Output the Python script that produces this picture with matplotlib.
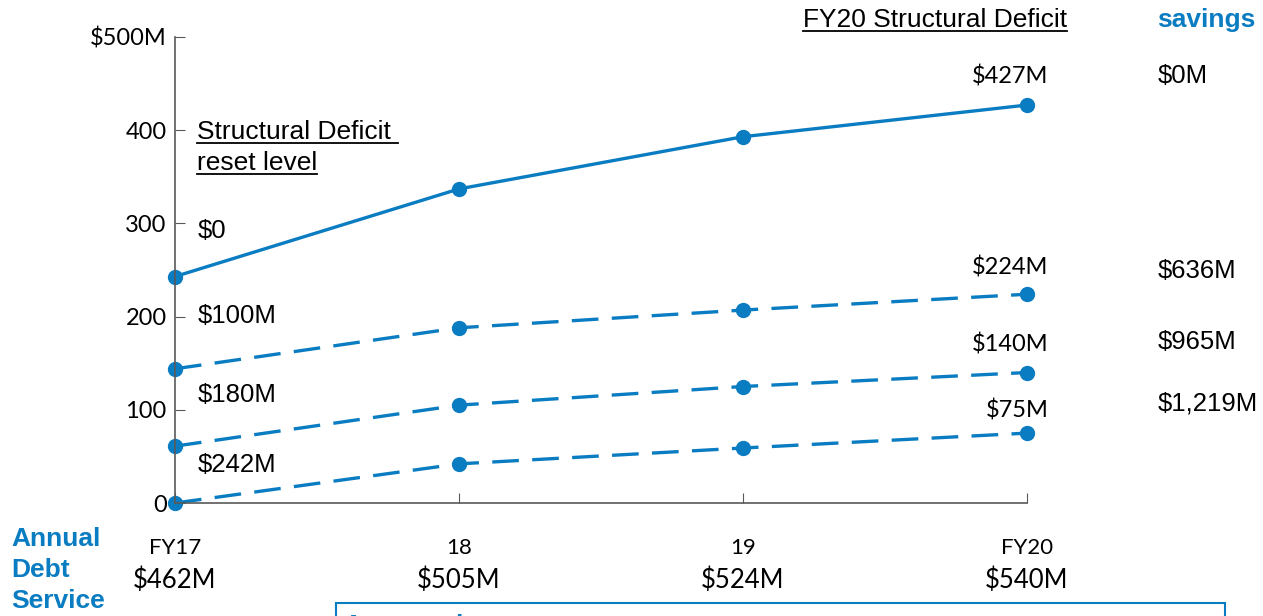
import matplotlib
matplotlib.use("Agg")
import matplotlib.pyplot as plt
from matplotlib.lines import Line2D
from matplotlib.patches import Rectangle

# datos
anios = ["FY17", "18", "19", "FY20"]
servicio_deuda = ["$462M", "$505M", "$524M", "$540M"]
deficit_base = [243, 337, 393, 427]
deficit_100 = [144, 188, 207, 224]
deficit_180 = [61, 105, 125, 140]
deficit_242 = [0, 42, 59, 75]
niveles_reset = ["$0", "$100M", "$180M", "$242M"]
etiquetas_fy20 = ["$427M", "$224M", "$140M", "$75M"]
ahorros = ["$0M", "$636M", "$965M", "$1,219M"]
yticks = [0, 100, 200, 300, 400, 500]
ytick_labels = ["0", "100", "200", "300", "400", "$500M"]

AZUL = "#0a7cc1"
GRIS = "#595959"
ARIAL = "Liberation Sans"
CALIBRI = "Lato"

W, H = 1263, 616
fig = plt.figure(figsize=(W / 100, H / 100), dpi=100)

def px(x, y):
    return x / W, 1 - y / H

ax = fig.add_axes([175 / W, (H - 503) / H, (1027 - 175) / W, (503 - 37) / H])
ax.set_xlim(0, 3)
ax.set_ylim(0, 500)
for s in ["top", "right"]:
    ax.spines[s].set_visible(False)
for s in ["left", "bottom"]:
    ax.spines[s].set_color(GRIS)
    ax.spines[s].set_linewidth(1.2)
ax.set_xticks(range(4))
ax.set_xticklabels([])
ax.set_yticks(yticks)
ax.set_yticklabels(ytick_labels, fontfamily=CALIBRI, fontsize=17)
ax.tick_params(axis="y", direction="in", length=7, color=GRIS, pad=6)
ax.tick_params(axis="x", direction="in", length=7, color=GRIS)

x = list(range(4))
ax.plot(x, deficit_base, color=AZUL, lw=2.4, marker="o", ms=10, clip_on=False)
for serie in [deficit_100, deficit_180, deficit_242]:
    ax.plot(x, serie, color=AZUL, lw=2.4, marker="o", ms=10, clip_on=False,
            dashes=(8, 4))

# etiquetas de nivel de reset
for txt, yy in zip(niveles_reset, [231, 316, 395, 465]):
    fig.text(*px(198, yy), txt, fontfamily=ARIAL, fontsize=18.5, va="center", ha="left")

# valores FY20
for txt, yy, xx in zip(etiquetas_fy20, [76, 267, 345, 410], [1010, 1010, 1010, 1017]):
    fig.text(*px(xx, yy), txt, fontfamily=CALIBRI, fontsize=17, va="center", ha="center")

# ahorros
for txt, yy in zip(ahorros, [76, 271, 342, 404]):
    fig.text(*px(1158, yy), txt, fontfamily=ARIAL, fontsize=18.5, va="center", ha="left")

# eje x: años y servicio de deuda
xs = [175, 459, 743, 1027]
for xx, a, s in zip(xs, anios, servicio_deuda):
    fig.text(*px(xx, 548), a, fontfamily=CALIBRI, fontsize=16, va="center", ha="center")
    fig.text(*px(xx, 580), s, fontfamily=CALIBRI, fontsize=18.5, va="center", ha="center")

fig.text(*px(11, 570), "Annual\nDebt\nService", fontfamily=ARIAL, fontsize=19,
         fontweight="bold", color=AZUL, va="center", ha="left", linespacing=1.38)

fig.text(*px(1157, 20), "savings", fontfamily=ARIAL, fontsize=19,
         fontweight="bold", color=AZUL, va="center", ha="left")

subrayados = [
    fig.text(*px(803, 20), "FY20 Structural Deficit", fontfamily=ARIAL, fontsize=19,
             va="center", ha="left"),
    fig.text(*px(197, 132), "Structural Deficit ", fontfamily=ARIAL, fontsize=19,
             va="center", ha="left"),
    fig.text(*px(197, 163), "reset level", fontfamily=ARIAL, fontsize=19,
             va="center", ha="left"),
]

# caja de supuestos (cortada en el borde)
fig.patches.append(Rectangle(px(336, 640), (1225 - 336) / W, 37 / H, transform=fig.transFigure,
                             fill=False, edgecolor=AZUL, lw=1.5))
fig.text(*px(343, 626), "Assumptions", fontfamily=ARIAL, fontsize=19,
         fontweight="bold", color=AZUL, va="center", ha="left")

fig.canvas.draw()
r = fig.canvas.get_renderer()
for t in subrayados:
    bb = t.get_window_extent(r)
    y0 = bb.y0 + 1
    fig.lines.append(Line2D([bb.x0 / W, bb.x1 / W], [y0 / H, y0 / H],
                            transform=fig.transFigure, color="black", lw=1.3))

fig.savefig("out.png", dpi=100)
